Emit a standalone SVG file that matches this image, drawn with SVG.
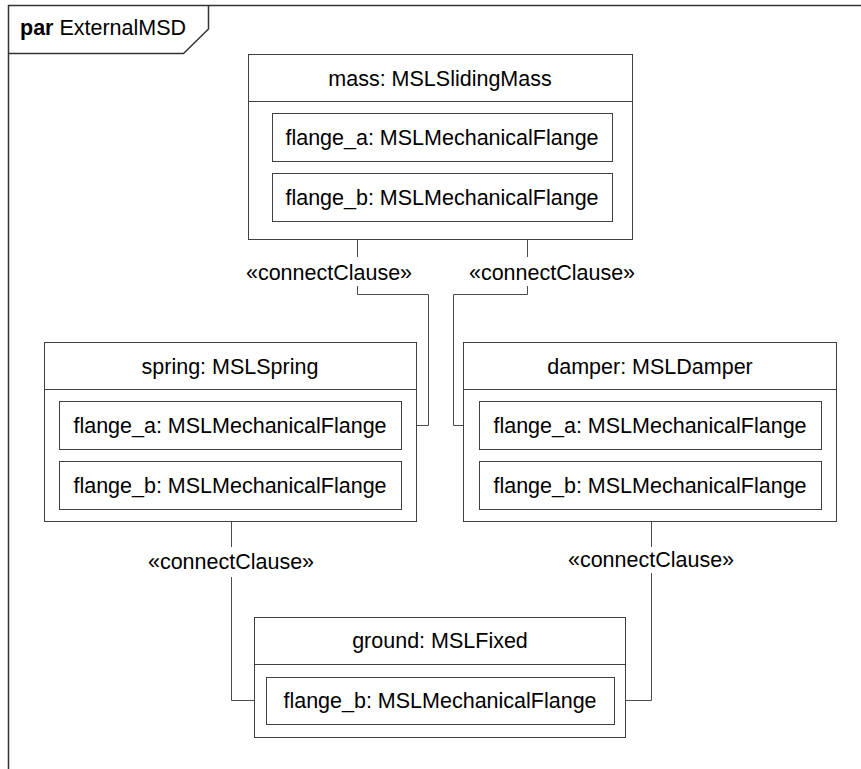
<svg xmlns="http://www.w3.org/2000/svg" width="861" height="769" viewBox="0 0 861 769">
  <style>
    .frame { fill: none; stroke: #333333; stroke-width: 1.5; }
    .box { fill: #ffffff; stroke: #404040; stroke-width: 1; }
    .sep { stroke: #404040; stroke-width: 1; }
    .wire { fill: none; stroke: #4a4a4a; stroke-width: 1; }
    text { font-family: "Liberation Sans", Arial, sans-serif; font-size: 21.5px; fill: #000000; text-anchor: middle; }
    .kw { font-weight: bold; }
    .left { text-anchor: start; }
  </style>
  <rect x="0" y="0" width="861" height="769" fill="#ffffff"/>

  <!-- parametric diagram frame -->
  <g id="frame">
    <path class="frame" d="M8.5,769 V5.5 H861"/>
    <path class="frame" d="M8.5,53.5 H183.5 L208.5,29 V5.5"/>
    <text class="left" x="20" y="35"><tspan class="kw">par</tspan> ExternalMSD</text>
  </g>

  <!-- connectors -->
  <g id="connectors">
    <path class="wire" d="M357.5,221 V257 M357.5,286 V294.5 H428.5 V425.5 H401"/>
    <path class="wire" d="M527.5,221 V257 M527.5,286 V294.5 H453.5 V425.5 H479"/>
    <path class="wire" d="M231.5,509 V547 M231.5,577 V700.5 H266"/>
    <path class="wire" d="M522,509 H651.5 V547 M651.5,573 V700.5 H614"/>
    <text x="329" y="280">«connectClause»</text>
    <text x="552" y="280">«connectClause»</text>
    <text x="231" y="569">«connectClause»</text>
    <text x="651" y="567">«connectClause»</text>
  </g>

  <g id="mass">
    <rect class="box" x="248.5" y="54.5" width="384" height="185"/>
    <line class="sep" x1="248.5" y1="101.5" x2="632.5" y2="101.5"/>
    <text x="440" y="86">mass: MSLSlidingMass</text>
    <g id="mass_flange_a">
      <rect class="box" x="272.5" y="113.5" width="340" height="48"/>
      <text x="442" y="145">flange_a: MSLMechanicalFlange</text>
    </g>
    <g id="mass_flange_b">
      <rect class="box" x="272.5" y="173.5" width="340" height="48"/>
      <text x="442" y="205">flange_b: MSLMechanicalFlange</text>
    </g>
  </g>

  <g id="spring">
    <rect class="box" x="44.5" y="342.5" width="372" height="179"/>
    <line class="sep" x1="44.5" y1="389.5" x2="416.5" y2="389.5"/>
    <text x="230" y="374">spring: MSLSpring</text>
    <g id="spring_flange_a">
      <rect class="box" x="59.5" y="401.5" width="342" height="48"/>
      <text x="230" y="433">flange_a: MSLMechanicalFlange</text>
    </g>
    <g id="spring_flange_b">
      <rect class="box" x="59.5" y="461.5" width="342" height="48"/>
      <text x="230" y="493">flange_b: MSLMechanicalFlange</text>
    </g>
  </g>

  <g id="damper">
    <rect class="box" x="463.5" y="342.5" width="373" height="179"/>
    <line class="sep" x1="463.5" y1="389.5" x2="836.5" y2="389.5"/>
    <text x="650" y="374">damper: MSLDamper</text>
    <g id="damper_flange_a">
      <rect class="box" x="479.5" y="401.5" width="342" height="48"/>
      <text x="650" y="433">flange_a: MSLMechanicalFlange</text>
    </g>
    <g id="damper_flange_b">
      <rect class="box" x="479.5" y="461.5" width="342" height="48"/>
      <text x="650" y="493">flange_b: MSLMechanicalFlange</text>
    </g>
  </g>

  <g id="ground">
    <rect class="box" x="254.5" y="617.5" width="371" height="120"/>
    <line class="sep" x1="254.5" y1="664.5" x2="625.5" y2="664.5"/>
    <text x="440" y="648">ground: MSLFixed</text>
    <g id="ground_flange_b">
      <rect class="box" x="266.5" y="677.5" width="348" height="47"/>
      <text x="440" y="708">flange_b: MSLMechanicalFlange</text>
    </g>
  </g>
</svg>
